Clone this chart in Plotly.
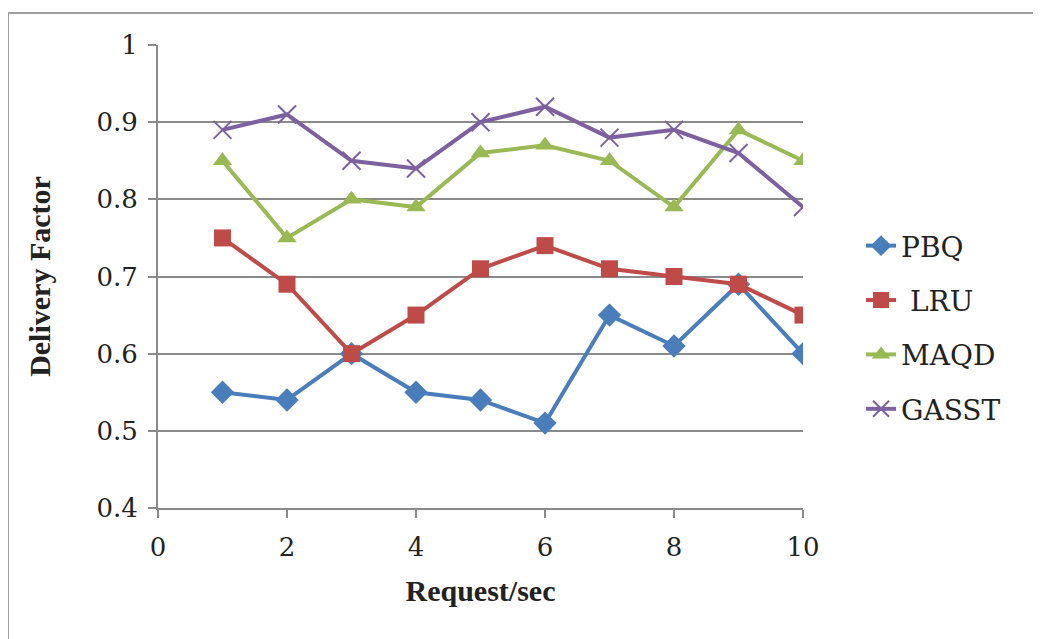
import plotly.graph_objects as go

x_vals = [1, 2, 3, 4, 5, 6, 7, 8, 9, 10]
pbq = [0.55, 0.54, 0.60, 0.55, 0.54, 0.51, 0.65, 0.61, 0.69, 0.60]
lru = [0.75, 0.69, 0.60, 0.65, 0.71, 0.74, 0.71, 0.70, 0.69, 0.65]
maqd = [0.85, 0.75, 0.80, 0.79, 0.86, 0.87, 0.85, 0.79, 0.89, 0.85]
gasst = [0.89, 0.91, 0.85, 0.84, 0.90, 0.92, 0.88, 0.89, 0.86, 0.79]

series = [
    ("PBQ", pbq, "#4a7ebb", "diamond", 18),
    ("LRU", lru, "#be4b48", "square", 17),
    ("MAQD", maqd, "#98b954", "triangle-up", 17),
    ("GASST", gasst, "#7d60a0", "x-thin", 18),
]

FONT = "Liberation Serif, DejaVu Serif, serif"
RFONT = "DejaVu Serif"
fig = go.Figure()
for i, (name, vals, color, sym, size) in enumerate(series):
    marker = dict(symbol=sym, size=size, color=color)
    if sym == "x-thin":
        marker["line"] = dict(color=color, width=2)
    fig.add_trace(go.Scatter(
        x=x_vals, y=vals, name=name if name != "LRU" else " LRU",
        mode="lines+markers",
        line=dict(color=color, width=4),
        marker=marker,
        legendgroup=name,
    ))

fig.update_layout(
    width=1041, height=639,
    margin=dict(l=150, r=246, t=37, b=139),
    paper_bgcolor="white", plot_bgcolor="white",
    font=dict(family=FONT, size=30, color="#222"),
    showlegend=True,
    legend=dict(x=1.09, y=0.39, xanchor="left", yanchor="middle",
                font=dict(family=RFONT, size=28, color="#222"),
                traceorder="grouped", tracegroupgap=15,
                bgcolor="rgba(0,0,0,0)"),
    xaxis=dict(range=[0, 10], dtick=2, tick0=0, showgrid=False,
               showline=True, linecolor="#8a8a8a", linewidth=2,
               ticks="outside", ticklen=8, tickcolor="#8a8a8a", tickwidth=2,
               ticklabelstandoff=7,
               tickfont=dict(family=RFONT, size=26, color="#222"),
               title=dict(text="<b>Request/sec</b>", standoff=19,
                          font=dict(family=FONT, size=30, color="#222")),
               zeroline=False),
    yaxis=dict(range=[0.4, 1.0], dtick=0.1, tick0=0.4, showgrid=True,
               gridcolor="#8a8a8a", gridwidth=2,
               showline=True, linecolor="#8a8a8a", linewidth=2,
               ticks="outside", ticklen=8, tickcolor="#8a8a8a", tickwidth=2,
               ticklabelstandoff=5,
               tickfont=dict(family=RFONT, size=26, color="#222"),
               title=dict(text="<b>Delivery Factor</b>", standoff=37,
                          font=dict(family=FONT, size=30, color="#222")),
               zeroline=False),
    shapes=[dict(type="rect", xref="paper", yref="paper",
                 x0=-0.2326, x1=1.4, y0=-0.35, y1=1.069,
                 line=dict(color="#a0a0a0", width=2), layer="below")],
)

fig.write_html("out.html")
